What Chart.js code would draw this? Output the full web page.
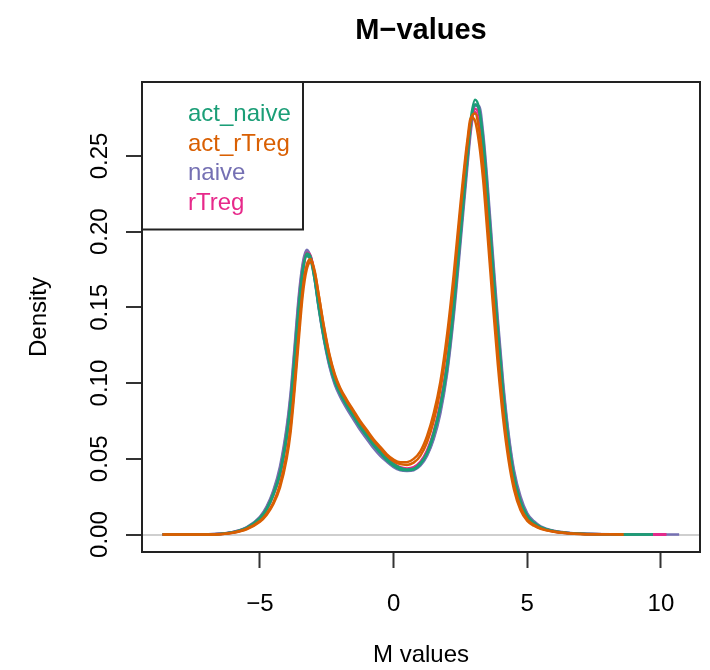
<!DOCTYPE html>
<html><head><meta charset="utf-8">
<script src="https://cdn.jsdelivr.net/npm/chart.js@4/dist/chart.umd.min.js"></script>
<style>html,body{margin:0;padding:0;background:#fff}canvas{display:block}</style>
</head><body>
<canvas id="c" width="710" height="670"></canvas>
<script>
const chartTitle = "M\u2212values";
const xTitle = "M values";
const yTitle = "Density";
const groupNames = ["act_naive", "act_rTreg", "naive", "rTreg"];
const groupColors = ["#1B9E77", "#D95F02", "#7570B3", "#E7298A"];
const xTicks = [-5, 0, 5, 10];
const xTickLabels = ["\u22125", "0", "5", "10"];
const yTicks = [0, 0.05, 0.10, 0.15, 0.20, 0.25];
const yTickLabels = ["0.00", "0.05", "0.10", "0.15", "0.20", "0.25"];

const mGrid = [-8.64,-7.5,-6.5,-6.0,-5.5,-5.0,-4.75,-4.5,-4.25,-4.0,-3.85,-3.7,-3.55,-3.4,-3.25,-3.1,-2.95,-2.8,-2.6,-2.4,-2.2,-2.0,-1.75,-1.5,-1.25,-1.0,-0.75,-0.5,-0.25,0.0,0.25,0.5,0.75,1.0,1.25,1.5,1.75,2.0,2.25,2.5,2.75,2.9,3.05,3.2,3.35,3.5,3.7,3.9,4.1,4.3,4.5,4.75,5.0,5.25,5.5,6.0,6.5,7.0,8.6,9.7,10.2,10.68];

const actNaive1 = [0,0,0.0004,0.0015,0.0042,0.0105,0.0165,0.026,0.040,0.064,0.086,0.116,0.149,0.174,0.1855,0.183,0.170,0.152,0.131,0.114,0.102,0.094,0.086,0.079,0.072,0.066,0.060,0.055,0.050,0.0465,0.044,0.043,0.0435,0.047,0.054,0.067,0.085,0.112,0.152,0.201,0.250,0.276,0.287,0.281,0.259,0.226,0.178,0.132,0.091,0.060,0.038,0.021,0.012,0.0075,0.0048,0.0022,0.0011,0.0005,0.0001,0,null,null];
const actNaive2 = [0,0,0.0004,0.0016,0.0044,0.011,0.017,0.027,0.041,0.066,0.088,0.118,0.150,0.174,0.184,0.181,0.168,0.150,0.129,0.113,0.101,0.093,0.085,0.078,0.071,0.065,0.059,0.054,0.049,0.0455,0.043,0.0425,0.043,0.0465,0.0535,0.066,0.084,0.110,0.149,0.197,0.246,0.273,0.284,0.280,0.260,0.228,0.181,0.135,0.094,0.062,0.039,0.022,0.0125,0.0078,0.005,0.0023,0.0011,0.0005,0.0001,0,null,null];
const actRTreg1 = [0,0,0.0003,0.0012,0.0035,0.0085,0.013,0.020,0.031,0.050,0.068,0.096,0.128,0.158,0.175,0.180,0.173,0.158,0.137,0.119,0.106,0.097,0.089,0.082,0.075,0.069,0.063,0.058,0.053,0.0495,0.0477,0.0478,0.050,0.055,0.065,0.080,0.101,0.132,0.172,0.218,0.259,0.2755,0.273,0.258,0.234,0.201,0.155,0.112,0.076,0.049,0.030,0.016,0.009,0.0058,0.0038,0.0018,0.0009,0.0004,0.0001,null,null,null];
const actRTreg2 = [0,0,0.0003,0.0013,0.0038,0.009,0.0138,0.021,0.033,0.053,0.072,0.100,0.133,0.162,0.178,0.182,0.174,0.158,0.136,0.118,0.105,0.096,0.088,0.081,0.074,0.068,0.062,0.057,0.052,0.0485,0.0465,0.046,0.0475,0.052,0.061,0.075,0.096,0.126,0.166,0.213,0.256,0.275,0.278,0.267,0.244,0.211,0.164,0.120,0.082,0.053,0.033,0.018,0.010,0.0064,0.0041,0.0019,0.0009,0.0004,0.0001,null,null,null];
const naive1 = [0,0,0.0005,0.0018,0.0048,0.0118,0.0185,0.029,0.045,0.071,0.094,0.125,0.157,0.179,0.188,0.183,0.168,0.149,0.128,0.111,0.099,0.091,0.083,0.076,0.069,0.063,0.057,0.052,0.048,0.0445,0.0425,0.042,0.0425,0.0455,0.052,0.063,0.080,0.106,0.144,0.192,0.241,0.268,0.283,0.283,0.265,0.235,0.188,0.142,0.100,0.067,0.043,0.025,0.014,0.0088,0.0055,0.0025,0.0012,0.0006,0.0002,0.0001,0,0];
const naive2 = [0,0,0.0005,0.0017,0.0046,0.0113,0.0178,0.028,0.043,0.069,0.091,0.122,0.154,0.177,0.187,0.183,0.169,0.150,0.129,0.112,0.100,0.092,0.084,0.077,0.070,0.064,0.058,0.053,0.0485,0.045,0.043,0.0423,0.043,0.046,0.0525,0.064,0.082,0.108,0.147,0.196,0.245,0.271,0.284,0.281,0.262,0.231,0.184,0.138,0.097,0.065,0.041,0.023,0.013,0.008,0.005,0.0023,0.0011,0.0005,0.0002,0,0,null];
const rTreg1 = [0,0,0.0004,0.0015,0.0043,0.0108,0.017,0.027,0.041,0.066,0.088,0.118,0.151,0.175,0.186,0.184,0.171,0.153,0.132,0.115,0.103,0.094,0.086,0.079,0.072,0.066,0.060,0.055,0.050,0.0465,0.044,0.0432,0.044,0.0475,0.0545,0.067,0.085,0.111,0.150,0.198,0.246,0.271,0.281,0.277,0.258,0.227,0.180,0.134,0.093,0.061,0.039,0.022,0.012,0.0076,0.0048,0.0022,0.001,0.0005,0.0001,0,0,null];
const rTreg2 = [0,0,0.0004,0.0014,0.0041,0.0103,0.0163,0.026,0.039,0.063,0.085,0.114,0.147,0.172,0.184,0.183,0.171,0.153,0.132,0.115,0.103,0.095,0.087,0.080,0.073,0.067,0.061,0.056,0.051,0.047,0.0445,0.0437,0.0445,0.048,0.0555,0.068,0.087,0.114,0.154,0.203,0.250,0.274,0.279,0.271,0.250,0.218,0.171,0.127,0.088,0.057,0.036,0.020,0.011,0.007,0.0045,0.0021,0.001,0.0005,0.0001,0,0,null];

// drawing order: first dataset ends up on top
const sampleSeries = [
  {group: 1, values: actRTreg1}, {group: 1, values: actRTreg2},
  {group: 0, values: actNaive1}, {group: 0, values: actNaive2},
  {group: 3, values: rTreg1}, {group: 3, values: rTreg2},
  {group: 2, values: naive1}, {group: 2, values: naive2}
];

const FONT = "'Liberation Sans', Arial, Helvetica, sans-serif";

const datasets = sampleSeries.map(s => ({
  data: s.values,
  borderColor: groupColors[s.group],
  borderWidth: 2.5,
  pointRadius: 0,
  fill: false,
  cubicInterpolationMode: 'monotone',
  spanGaps: false
}));

const rBoxPlugin = {
  id: 'rBox',
  afterDraw(chart) {
    const {ctx, chartArea: a} = chart;
    ctx.save();
    ctx.strokeStyle = '#222';
    ctx.lineWidth = 2;
    ctx.strokeRect(a.left, a.top, a.right - a.left, a.bottom - a.top);
    const lw = 161, lh = 147.5;
    ctx.fillStyle = '#fff';
    ctx.fillRect(a.left, a.top, lw, lh);
    ctx.strokeRect(a.left, a.top, lw, lh);
    ctx.font = '24px ' + FONT;
    ctx.textAlign = 'left';
    ctx.textBaseline = 'alphabetic';
    groupNames.forEach((g, i) => {
      ctx.fillStyle = groupColors[i];
      ctx.fillText(g, a.left + 46, a.top + 39 + i * 29.6);
    });
    ctx.restore();
  }
};

new Chart(document.getElementById('c'), {
  type: 'line',
  data: { labels: mGrid, datasets },
  options: {
    responsive: false,
    animation: false,
    devicePixelRatio: 1,
    layout: { padding: { left: 0, right: 10, top: 0, bottom: 0 } },
    plugins: {
      legend: { display: false },
      tooltip: { enabled: false },
      title: {
        display: true, text: chartTitle, fullSize: false, color: '#000',
        font: { family: FONT, size: 29, weight: 'bold', lineHeight: 1.2 },
        padding: { top: 13.6, bottom: 33.6 }
      }
    },
    scales: {
      x: {
        type: 'linear', min: -9.41, max: 11.46, offset: false,
        afterBuildTicks: s => { s.ticks = xTicks.map(v => ({ value: v })); },
        afterFit: s => { s.height = 118; },
        border: { display: false },
        grid: { drawOnChartArea: false, drawTicks: true, tickLength: 16, tickColor: '#333', tickWidth: 2 },
        ticks: {
          autoSkip: false, maxRotation: 0, minRotation: 0, padding: 22, color: '#000',
          font: { family: FONT, size: 24, lineHeight: 1.2 },
          callback: (v, i) => xTickLabels[i]
        },
        title: {
          display: true, text: xTitle, color: '#000',
          font: { family: FONT, size: 24, lineHeight: 1.2 },
          padding: { top: 0, bottom: 0.5 }
        }
      },
      y: {
        type: 'linear', min: -0.0115, max: 0.2988,
        afterBuildTicks: s => { s.ticks = yTicks.map(v => ({ value: v })); },
        afterFit: s => { s.width = 142; },
        border: { display: false },
        grid: {
          drawOnChartArea: true, drawTicks: true, tickLength: 16, tickColor: '#333', tickWidth: 2,
          lineWidth: 2,
          color: c => (c.tick && c.tick.value === 0) ? '#cfcfcf' : 'rgba(0,0,0,0)'
        },
        ticks: {
          autoSkip: false, minRotation: 90, maxRotation: 90, crossAlign: 'center', padding: 2, color: '#000',
          font: { family: FONT, size: 24, lineHeight: 1.2 },
          callback: (v, i) => yTickLabels[i]
        },
        title: {
          display: true, text: yTitle, color: '#000',
          font: { family: FONT, size: 24, lineHeight: 1.2 },
          padding: { top: 24.6, bottom: 0 }
        }
      }
    }
  },
  plugins: [rBoxPlugin]
});
</script>
</body></html>
